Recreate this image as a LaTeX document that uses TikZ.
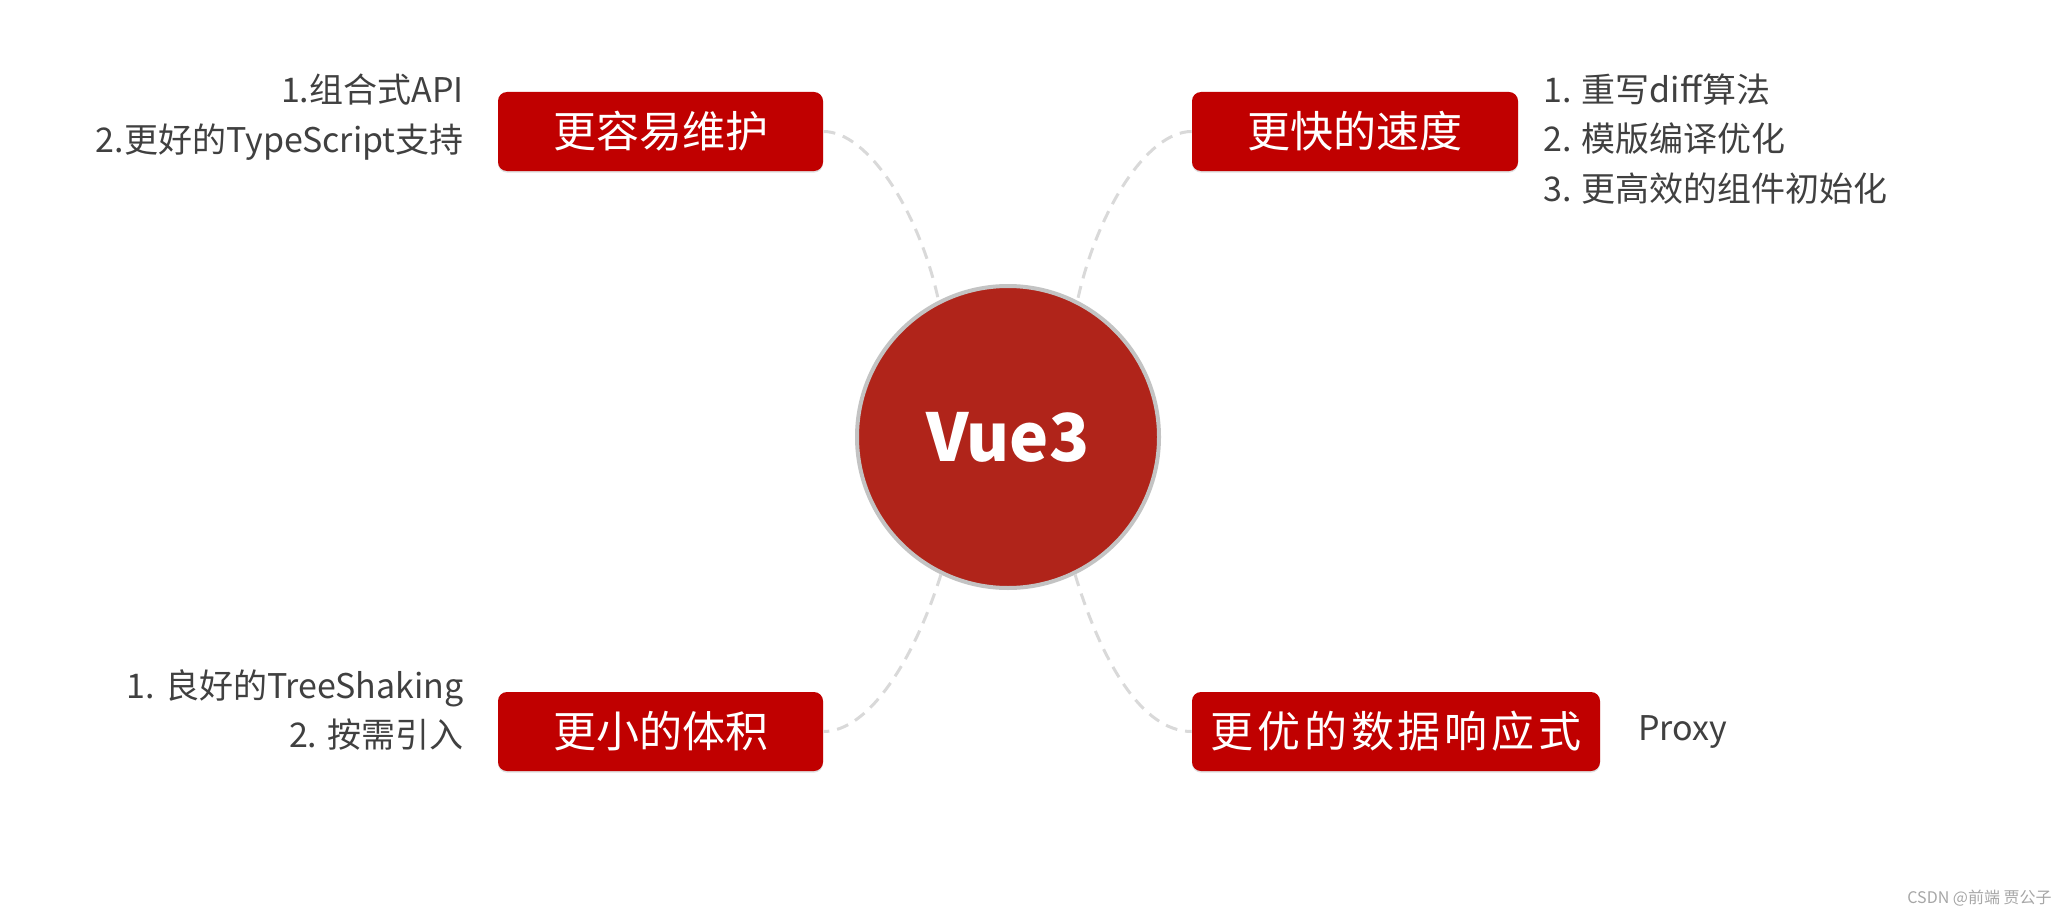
\documentclass[tikz,border=0pt]{standalone}
\usepackage{fontspec}
\setmainfont{Noto Sans CJK SC}
\usepackage{tikz}
\usetikzlibrary{positioning,shadows}
\definecolor{boxred}  {HTML}{C00000}
\definecolor{corered} {HTML}{B0241A}
\definecolor{ring}    {HTML}{C3C3C3}
\definecolor{dashgray}{HTML}{D9D9D9}
\definecolor{ink}     {HTML}{404040}
\definecolor{credit}  {HTML}{A6A6A6}
\tikzset{
  % --- nodes
  core/.style  = {circle, draw=ring, fill=corered, line width=2pt, minimum size=151pt,
                  inner sep=0pt, text=white, font=\fontsize{33}{36}\selectfont\bfseries},
  topic/.style = {rounded corners=4.5pt, fill=boxred, text=white, minimum height=39.5pt,
                  inner sep=0pt, text height=18.9pt, text depth=2.6pt,
                  font=\fontsize{21.5}{24}\selectfont,
                  drop shadow={shadow xshift=0pt, shadow yshift=-0.8pt, opacity=0.25}},
  item/.style  = {text=ink, inner sep=0pt, text height=15pt, text depth=2pt,
                  font=\fontsize{17}{20}\selectfont},
  % --- edges
  link/.style  = {draw=dashgray, line width=1.5pt, dash pattern=on 6pt off 4pt},
}

\begin{document}
\begin{tikzpicture}[x=0.5pt,y=0.5pt]
  \useasboundingbox (0,0) rectangle (2066,918);
  % centre
  \node[core] (vue) at (1008,481) {Vue3};
  % topics
  \node[topic, minimum width=162.5pt] (easy)  at (660.5,786.5) {更容易维护};
  \node[topic, minimum width=163pt]   (fast)  at (1355,786.5)  {更快的速度};
  \node[topic, minimum width=162.5pt] (small) at (660.5,186.5) {更小的体积};
  \node[topic, minimum width=204pt]   (react) at (1396,186.5)
    {\addfontfeature{LetterSpace=9}更优的数据响应式};
  % links
  \draw[link] (easy.east) .. controls +(45,0) and +(-19,88) .. (vue.117);
  \draw[link] (fast.west) .. controls +(-45,0) and +(19,88) .. (vue.63);
  \draw[link] (vue.244) .. controls +(-27,-86) and +(45,0) .. (small.east);
  \draw[link] (vue.296) .. controls +(26,-86) and +(-50,0) .. (react.west);
  % items
  \foreach \n/\y/\t in {1/828/1.组合式API, 2/778/2.更好的TypeScript支持}
  {
    \node[item, anchor=east] (easy\n) at (464,\y) {\t};
  }
  \foreach \n/\y/\t in {1/828/1. 重写diff算法, 2/780/2. 模版编译优化, 3/730/3. 更高效的组件初始化}
  {
    \node[item, anchor=west] (fast\n) at (1543,\y) {\t};
  }
  \foreach \n/\y/\t in {1/233/1. 良好的TreeShaking, 2/184/2. 按需引入}
  {
    \node[item, anchor=east] (small\n) at (464,\y) {\t};
  }
  \node[item, anchor=west] (proxy) at (1638,191) {Proxy};
  % watermark
  \node[anchor=east, text=credit, inner sep=0pt, font=\fontsize{8}{10}\selectfont]
    (mark) at (2052,20) {CSDN @前端 贾公子};
\end{tikzpicture}
\end{document}
